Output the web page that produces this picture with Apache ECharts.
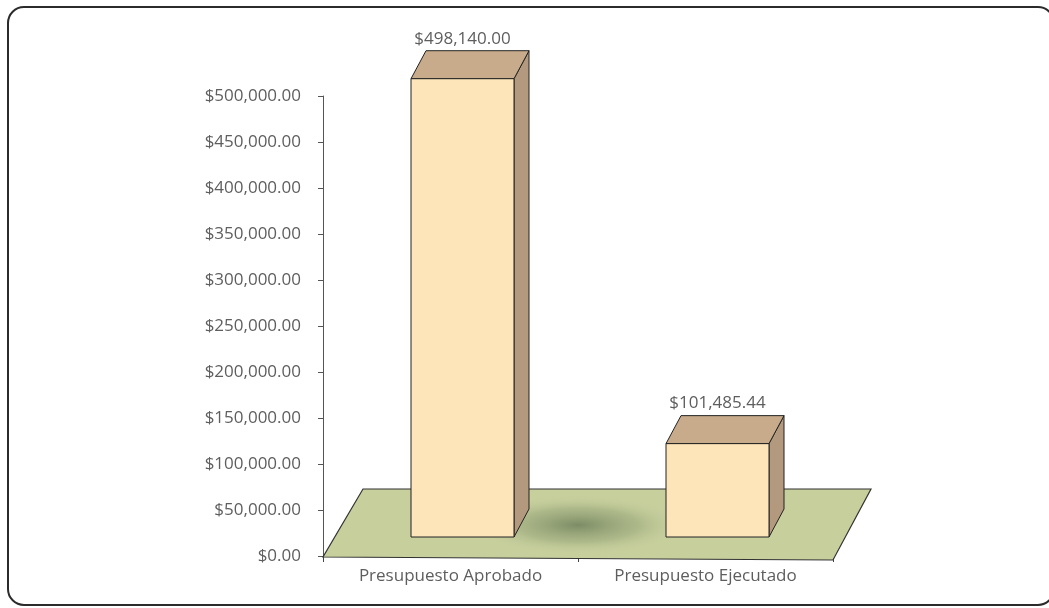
<!DOCTYPE html>
<html>
<head>
<meta charset="utf-8">
<script src="https://cdn.jsdelivr.net/npm/echarts@6/dist/echarts.min.js"></script>
<style>
html,body{margin:0;padding:0;background:#fff;}
#main{width:1049px;height:608px;}
</style>
</head>
<body>
<div id="main"></div>
<script>
const categories = ['Presupuesto Aprobado', 'Presupuesto Ejecutado'];
const values = [498140.00, 101485.44];
const yTickValues = [0, 50000, 100000, 150000, 200000, 250000, 300000, 350000, 400000, 450000, 500000];
const yTickLabels = ['$0.00', '$50,000.00', '$100,000.00', '$150,000.00', '$200,000.00', '$250,000.00', '$300,000.00', '$350,000.00', '$400,000.00', '$450,000.00', '$500,000.00'];

function money(v) {
  return '$' + v.toLocaleString('en-US', {minimumFractionDigits: 2, maximumFractionDigits: 2});
}

const FONT = '"Open Sans", sans-serif';
const TXT = '#5e5e5e';

const chart = echarts.init(document.getElementById('main'));

const option = {
  backgroundColor: '#ffffff',
  animation: false,
  graphic: [{
    type: 'rect',
    shape: {x: 8, y: 7, width: 1046, height: 598, r: 16},
    style: {fill: 'none', stroke: '#2b2b2b', lineWidth: 2},
    z: -10, silent: true
  }],
  grid: {left: 323, right: 216, top: 96, bottom: 52, containLabel: false},
  xAxis: {
    type: 'category',
    data: categories,
    boundaryGap: true,
    axisLine: {show: true, lineStyle: {color: '#444', width: 1}},
    axisTick: {show: true, length: 6, lineStyle: {color: '#444'}},
    axisLabel: {color: TXT, fontFamily: FONT, fontSize: 17, margin: 12}
  },
  yAxis: {
    type: 'value',
    min: 0, max: 500000, interval: 50000,
    splitLine: {show: false},
    axisLine: {show: true, lineStyle: {color: '#555', width: 1}},
    axisTick: {show: true, length: 5, lineStyle: {color: '#555'}},
    axisLabel: {
      color: TXT, fontFamily: FONT, fontSize: 17, margin: 22,
      formatter: function (v) {
        const i = yTickValues.indexOf(v);
        return i >= 0 ? yTickLabels[i] : '';
      }
    }
  },
  series: [
    {
      type: 'custom',
      name: 'floor',
      data: [[0, 0]],
      silent: true,
      z: 1,
      renderItem: function (params, api) {
        const cs = params.coordSys;
        const fy = cs.y + cs.height + 1;
        const by = fy - 68;
        const fl = [cs.x, fy];
        const fr = [cs.x + cs.width, fy + 3];
        const br = [cs.x + cs.width + 38, by];
        const bl = [cs.x + 40, by];
        const midX = cs.x + cs.width * 0.5;
        return {
          type: 'group',
          children: [
            {
              type: 'polygon',
              shape: {points: [fl, fr, br, bl]},
              style: {fill: '#c7cf9d', stroke: '#333', lineWidth: 1.2}
            },
            {
              type: 'circle',
              x: midX, y: fy - 32,
              scaleX: 3.6, scaleY: 1,
              shape: {cx: 0, cy: 0, r: 30},
              style: {
                fill: {
                  type: 'radial', x: 0.5, y: 0.5, r: 0.5,
                  colorStops: [
                    {offset: 0, color: 'rgba(75,95,65,0.6)'},
                    {offset: 0.55, color: 'rgba(110,130,90,0.3)'},
                    {offset: 1, color: 'rgba(199,207,157,0)'}
                  ]
                }
              }
            }
          ]
        };
      }
    },
    {
      type: 'custom',
      name: 'Presupuesto',
      z: 2,
      data: categories.map((c, i) => [i, values[i]]),
      renderItem: function (params, api) {
        const idx = api.value(0);
        const val = api.value(1);
        const top = api.coord([idx, val]);
        const base = api.coord([idx, 0]);
        const w = 103, dx = 15, dy = -28, off = 12, lift = 19;
        const cx = top[0] + off;
        const x0 = cx - w / 2, x1 = cx + w / 2;
        const yT = top[1] - lift, yB = base[1] - lift;
        const line = {stroke: '#222', lineWidth: 1, lineJoin: 'round'};
        return {
          type: 'group',
          children: [
            {
              type: 'polygon',
              shape: {points: [[x1, yT], [x1 + dx, yT + dy], [x1 + dx, yB + dy], [x1, yB]]},
              style: Object.assign({fill: '#b39a7e'}, line)
            },
            {
              type: 'polygon',
              shape: {points: [[x0, yT], [x0 + dx, yT + dy], [x1 + dx, yT + dy], [x1, yT]]},
              style: Object.assign({fill: '#c8ab8a'}, line)
            },
            {
              type: 'rect',
              shape: {x: x0, y: yT, width: w, height: yB - yT},
              style: Object.assign({fill: '#fde5b9'}, line)
            },
            {
              type: 'text',
              x: cx, y: yT + dy - 12,
              style: {
                text: money(values[params.dataIndex]),
                fill: TXT, font: '17px ' + FONT,
                align: 'center', verticalAlign: 'middle'
              }
            }
          ]
        };
      }
    }
  ]
};
chart.setOption(option);
</script>
</body>
</html>
